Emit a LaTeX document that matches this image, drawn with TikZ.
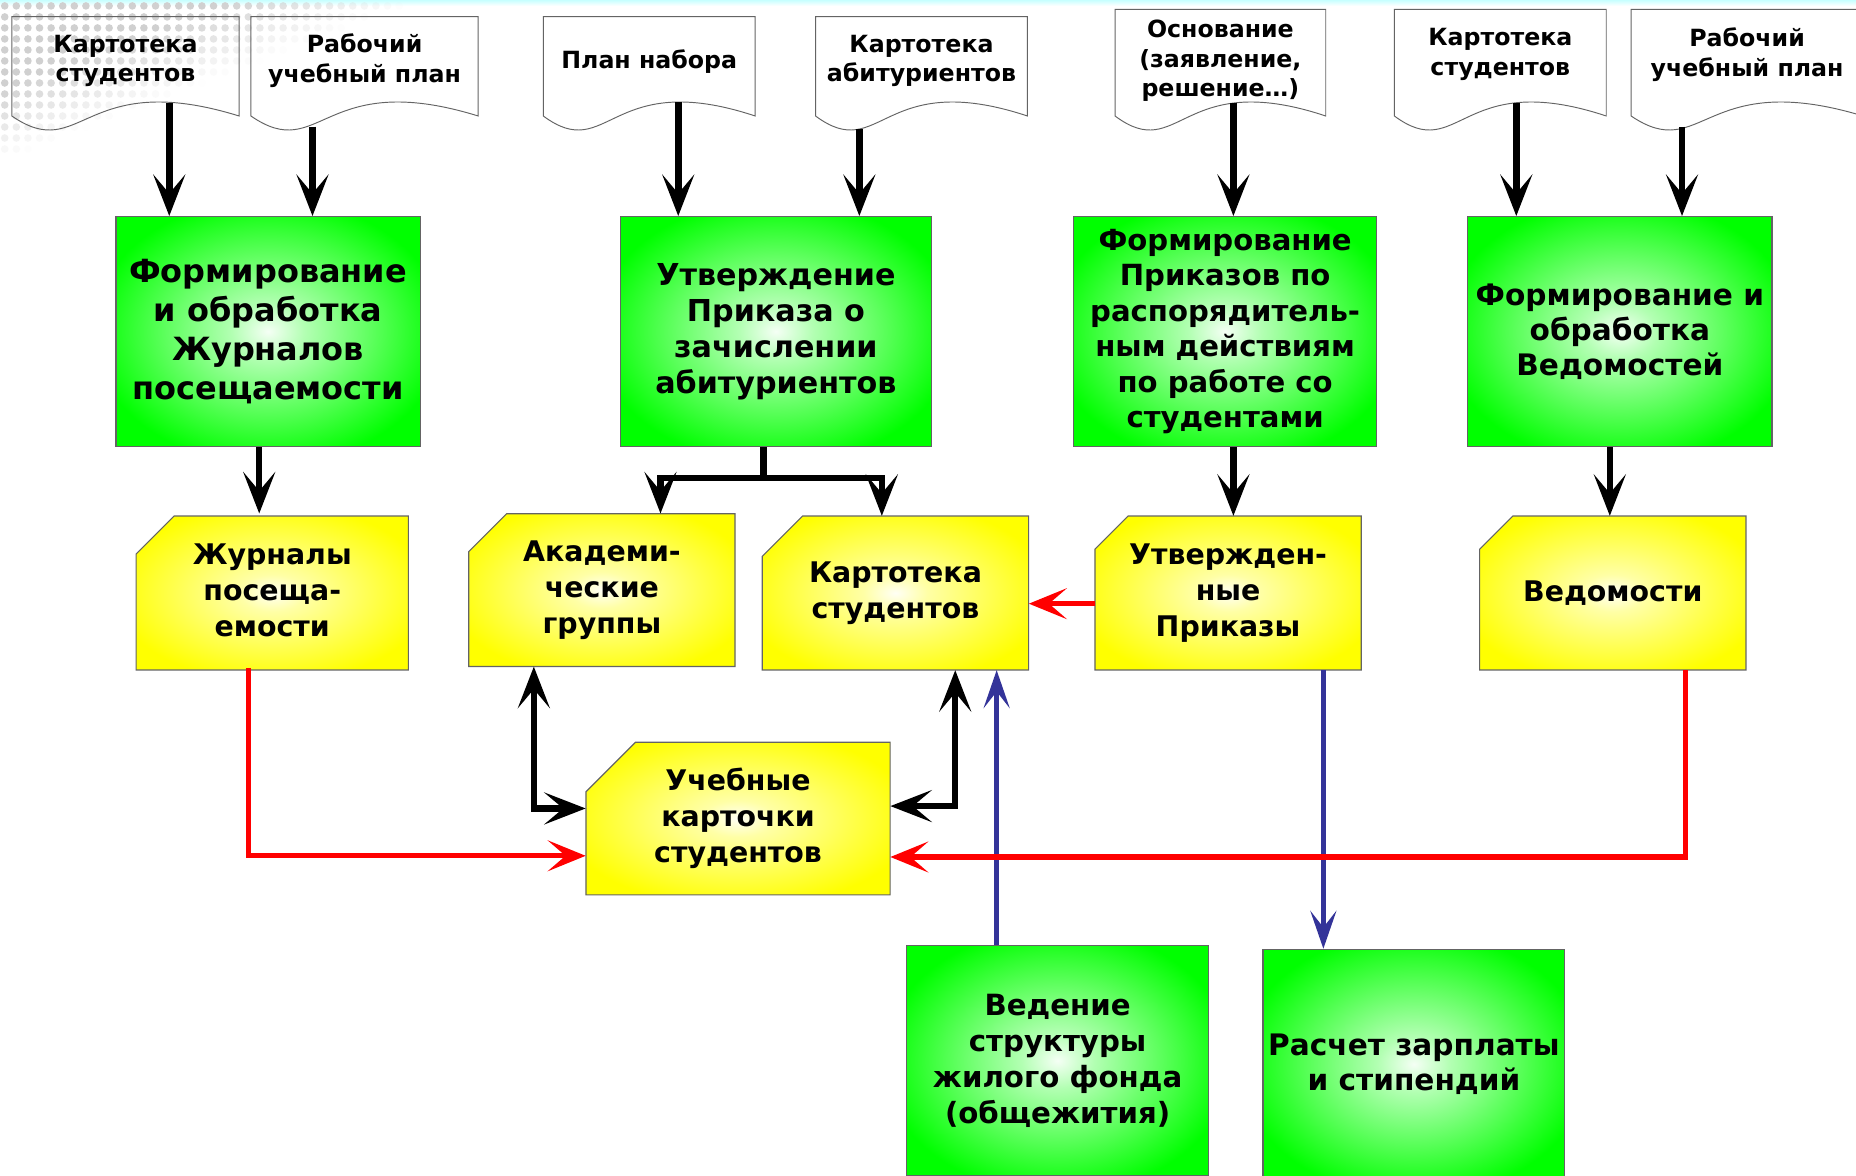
\documentclass[tikz,border=0pt]{standalone}
\usepackage{fontspec}
\setmainfont{DejaVu Sans}
\usetikzlibrary{arrows.meta,calc}
\colorlet{gc0}{green!4!white}
\colorlet{gc1}{green!30!white}
\colorlet{yc0}{yellow!4!white}
\colorlet{yc1}{yellow!35!white}
\definecolor{myblue}{RGB}{51,51,153}
\definecolor{dotc}{RGB}{208,208,208}
\definecolor{edgec}{RGB}{100,100,100}
\pgfdeclareradialshading{gglow}{\pgfpoint{0bp}{0bp}}{color(0bp)=(gc0); color(6bp)=(gc1); color(29bp)=(green); color(50bp)=(green)}
\pgfdeclareradialshading{yglow}{\pgfpoint{0bp}{0bp}}{color(0bp)=(yc0); color(6bp)=(yc1); color(29bp)=(yellow); color(50bp)=(yellow)}
\newcommand\docshape[7]{% name, x0, top, width, bottom, text y, text
  \draw[docline] (#2,#5) -- (#2,#3) -- (#2+#4,#3) -- (#2+#4,#5)
    .. controls (#2+0.31*#4,#5-41) and (#2+0.31*#4,#5+41) .. (#2,#5) -- cycle;
  \node[doctext] (#1) at (#2+0.5*#4,#6+2) {#7};
}
\newcommand\yshape[8]{% name, x1, y1, x2, y2, chamfer, text shift, text
  \path[shade, shading=yglow, draw=edgec, line width=1pt]
    (#2+#6,#3) -- (#4,#3) -- (#4,#5) -- (#2,#5) -- (#2,#3+#6) -- cycle;
  \node[ytext, minimum width=#4-#2, minimum height=#5-#3] (#1) at ({(#2+#4)/2},{(#3+#5)/2+#7}) {#8};
}
\begin{document}
\begin{tikzpicture}[x=1pt,y=-1pt,
  doctext/.style={align=center, inner sep=0pt, font=\bfseries\fontsize{20}{25}\selectfont},
  docline/.style={draw=edgec, line width=0.8pt},
  gbox/.style={draw=edgec, line width=1pt, shade, shading=gglow, align=center, inner sep=0pt,
    font=\bfseries\fontsize{25.5}{30.5}\selectfont},
  ytext/.style={align=center, inner sep=0pt, font=\bfseries\fontsize{24}{30.5}\selectfont},
  blk/.style={line width=5.5pt, draw=black, line join=miter},
  blkA/.style={blk, -{Stealth[length=35pt,width=27pt,inset=16pt]}},
  blkAA/.style={blk, {Stealth[length=35pt,width=27pt,inset=16pt]}-{Stealth[length=35pt,width=27pt,inset=16pt]}},
  redA/.style={line width=4.5pt, draw=red, -{Stealth[length=32pt,width=26pt,inset=15pt]}},
  bluA/.style={line width=4pt, draw=myblue, -{Stealth[length=32pt,width=22pt,inset=14pt]}}
]
\useasboundingbox (0,0) rectangle (1568,993);
\clip (0,0) rectangle (1568,993);
% background
\fill[white] (0,0) rectangle (1568,993);
\fill[top color=cyan!22!white, bottom color=white] (0,0) rectangle (1568,5);
\foreach \i in {0,...,36}{\foreach \j in {0,...,15}{
  \pgfmathsetmacro\f{1-(4+9.8*\i+2.6*(5+9.3*\j))/355}
  \ifdim\f pt>0pt
    \pgfmathsetmacro\op{min(1,2.2*\f)}
    \fill[dotc, opacity=\op] (4+9.8*\i,5+9.3*\j) circle (3.2pt);
  \fi
}}
% documents
\docshape{d1}{10}{14}{192}{98}{49.5}{Картотека\\студентов}
\docshape{d2}{212}{14}{192}{98}{49.5}{Рабочий\\учебный план}
\docshape{d3}{459}{14}{179}{98}{50}{План набора}
\docshape{d4}{689}{14}{179}{98}{49.5}{Картотека\\абитуриентов}
\docshape{d5}{942}{8}{178}{98}{49.5}{Основание\\(заявление,\\решение…)}
\docshape{d6}{1178}{8}{179}{98}{44}{Картотека\\студентов}
\docshape{d7}{1378}{8}{196}{98}{44}{Рабочий\\учебный план}
% green processes
\node[gbox, minimum width=257, minimum height=194, font=\bfseries\fontsize{27}{33}\selectfont] (g1) at (226.5,280)
  {Формирование\\и обработка\\Журналов\\посещаемости};
\node[gbox, minimum width=263, minimum height=194] (g2) at (655.5,280)
  {Утверждение\\Приказа о\\зачислении\\абитуриентов};
\node[gbox, minimum width=256, minimum height=194, font=\bfseries\fontsize{24.6}{30}\selectfont] (g3) at (1035,280)
  {Формирование\\Приказов по\\распорядитель-\\ным действиям\\по работе со\\студентами};
\node[gbox, minimum width=257, minimum height=194, font=\bfseries\fontsize{25}{29.5}\selectfont] (g4) at (1368.5,280)
  {Формирование и\\обработка\\Ведомостей};
\node[gbox, minimum width=255, minimum height=194, font=\bfseries\fontsize{24.7}{30.5}\selectfont] (g5) at (893.5,896)
  {Ведение\\структуры\\жилого фонда\\(общежития)};
\node[gbox, minimum width=255, minimum height=194, font=\bfseries\fontsize{25}{30}\selectfont] (g6) at (1194.5,899)
  {Расчет зарплаты\\и стипендий};
% yellow documents
\yshape{y1}{115}{436}{345}{566}{32}{-2}{Журналы\\посеща-\\емости}
\yshape{y2}{396}{434}{621}{563}{32}{0}{Академи-\\ческие\\группы}
\yshape{y3}{644}{436}{869}{566}{34}{0}{Картотека\\студентов}
\yshape{y4}{925}{436}{1150}{566}{28}{0}{Утвержден-\\ные\\Приказы}
\yshape{y5}{1250}{436}{1475}{566}{28}{0}{Ведомости}
\yshape{y6}{495}{627}{752}{756}{42}{0}{Учебные\\карточки\\студентов}
% inputs from documents
\coordinate (s1) at (143,87);
\coordinate (s2) at (264,107);
\coordinate (s3) at (573,86);
\coordinate (s4) at (726,109);
\coordinate (s5) at (1042,87);
\coordinate (s6) at (1281,87);
\coordinate (s7) at (1421,107);
\draw[blkA] (s1) -- (g1.north -| s1);
\draw[blkA] (s2) -- (g1.north -| s2);
\draw[blkA] (s3) -- (g2.north -| s3);
\draw[blkA] (s4) -- (g2.north -| s4);
\draw[blkA] (s5) -- (g3.north -| s5);
\draw[blkA] (s6) -- (g4.north -| s6);
\draw[blkA] (s7) -- (g4.north -| s7);
% process outputs
\coordinate (c1) at (219,0);
\coordinate (c3) at (1042,0);
\coordinate (c4) at (1360,0);
\draw[blkA] (g1.south -| c1) -- (y1.north -| c1);
\draw[blkA] (g3.south -| c3) -- (y4.north -| c3);
\draw[blkA] (g4.south -| c4) -- (y5.north -| c4);
\coordinate (fk) at (645,404);
\coordinate (fl) at (558,404);
\coordinate (fr) at (745,404);
\draw[blk] (g2.south -| fk) -- (fk);
\draw[blkA] (fk) -| (y2.north -| fl);
\draw[blkA] (fk) -| (y3.north -| fr);
% blue links
\coordinate (b1) at (842,0);
\coordinate (b2) at (1118,0);
\draw[bluA] (g5.north -| b1) -- (y3.south -| b1);
\draw[bluA] (y4.south -| b2) -- (g6.north -| b2);
% black two-way links
\coordinate (k1) at (451,683);
\coordinate (k2) at (807,681);
\draw[blkAA] (y2.south -| k1) |- (y6.west |- k1);
\draw[blkAA] (y3.south -| k2) |- (y6.east |- k2);
% red links
\coordinate (r0) at (0,510);
\coordinate (r1) at (210,723);
\coordinate (r2) at (1424,724);
\draw[redA] (y4.west |- r0) -- (y3.east |- r0);
\draw[redA] (y1.south -| r1) |- (y6.west |- r1);
\draw[redA] (y5.south -| r2) |- (y6.east |- r2);
\end{tikzpicture}
\end{document}
